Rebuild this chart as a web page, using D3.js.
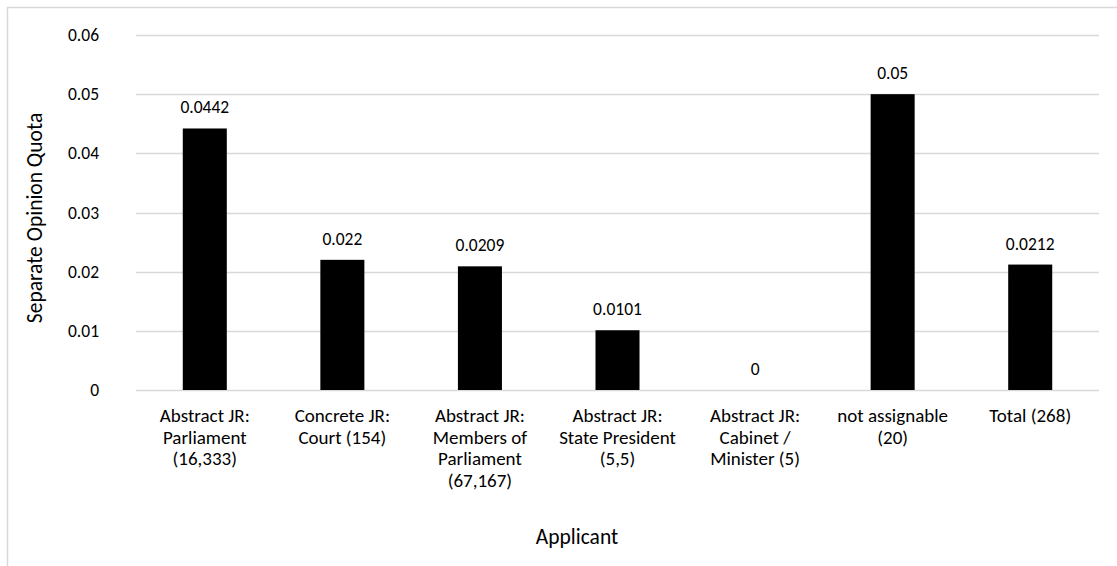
<!DOCTYPE html>
<html>
<head>
<meta charset="utf-8">
<script src="https://cdn.jsdelivr.net/npm/d3@7"></script>
<style>
  html, body { margin: 0; padding: 0; background: #fff; }
  svg { display: block; }
  text { font-family: Carlito, Calibri, Lato, "Open Sans", sans-serif; fill: #000; }
</style>
</head>
<body>
<svg id="chart" width="1117" height="566"></svg>
<script>
// Applicant categories (multi-line labels) and their separate opinion quota
const categories = [
  ["Abstract JR:", "Parliament", "(16,333)"],
  ["Concrete JR:", "Court (154)"],
  ["Abstract JR:", "Members of", "Parliament", "(67,167)"],
  ["Abstract JR:", "State President", "(5,5)"],
  ["Abstract JR:", "Cabinet /", "Minister (5)"],
  ["not assignable", "(20)"],
  ["Total (268)"]
];
const quotas = [0.0442, 0.022, 0.0209, 0.0101, 0, 0.05, 0.0212];
const valueLabels = ["0.0442", "0.022", "0.0209", "0.0101", "0", "0.05", "0.0212"];
const yTicks = [0, 0.01, 0.02, 0.03, 0.04, 0.05, 0.06];
const yTickLabels = ["0", "0.01", "0.02", "0.03", "0.04", "0.05", "0.06"];

const svg = d3.select("#chart");
const plot = { left: 136, right: 1099, top: 35, bottom: 390 };

// outer chart frame
svg.append("rect")
  .attr("x", 7.5).attr("y", 7.5)
  .attr("width", 1200).attr("height", 700)
  .attr("fill", "none").attr("stroke", "#d9d9d9").attr("stroke-width", 1.5);

const x = d3.scaleBand()
  .domain(d3.range(categories.length))
  .range([plot.left, plot.right])
  .paddingInner(0.68).paddingOuter(0.34);

const y = d3.scaleLinear().domain([0, 0.06]).range([plot.bottom, plot.top]);

// horizontal gridlines
svg.append("g").selectAll("line")
  .data(yTicks)
  .join("line")
  .attr("x1", plot.left).attr("x2", plot.right)
  .attr("y1", d => Math.round(y(d)) + 0.5).attr("y2", d => Math.round(y(d)) + 0.5)
  .attr("stroke", "#d9d9d9").attr("stroke-width", 1.5);

// y tick labels
svg.append("g").selectAll("text")
  .data(yTicks)
  .join("text")
  .attr("x", 99)
  .attr("y", d => y(d))
  .attr("dy", "0.35em")
  .attr("text-anchor", "end")
  .style("font-size", "17.5px")
  .text((d, i) => yTickLabels[i]);

// bars
svg.append("g").selectAll("rect")
  .data(quotas)
  .join("rect")
  .attr("x", (d, i) => x(i))
  .attr("width", x.bandwidth())
  .attr("y", d => y(d))
  .attr("height", d => y(0) - y(d))
  .attr("fill", "#000");

// value labels above bars
svg.append("g").selectAll("text")
  .data(quotas)
  .join("text")
  .attr("x", (d, i) => x(i) + x.bandwidth() / 2)
  .attr("y", d => y(d) - 15)
  .attr("text-anchor", "middle")
  .style("font-size", "17.5px")
  .text((d, i) => valueLabels[i]);

// category labels
const catG = svg.append("g").selectAll("text")
  .data(categories)
  .join("text")
  .attr("x", (d, i) => x(i) + x.bandwidth() / 2)
  .attr("y", 422)
  .attr("text-anchor", "middle")
  .style("font-size", "19px");
catG.selectAll("tspan")
  .data(d => d)
  .join("tspan")
  .attr("x", function () { return d3.select(this.parentNode).attr("x"); })
  .attr("dy", (d, i) => i === 0 ? 0 : 21.5)
  .text(d => d);

// axis titles
svg.append("text")
  .attr("transform", "translate(42, 218) rotate(-90)")
  .attr("text-anchor", "middle")
  .style("font-size", "21.5px")
  .text("Separate Opinion Quota");

svg.append("text")
  .attr("x", 577)
  .attr("y", 544)
  .attr("text-anchor", "middle")
  .style("font-size", "21.5px")
  .text("Applicant");
</script>
</body>
</html>
